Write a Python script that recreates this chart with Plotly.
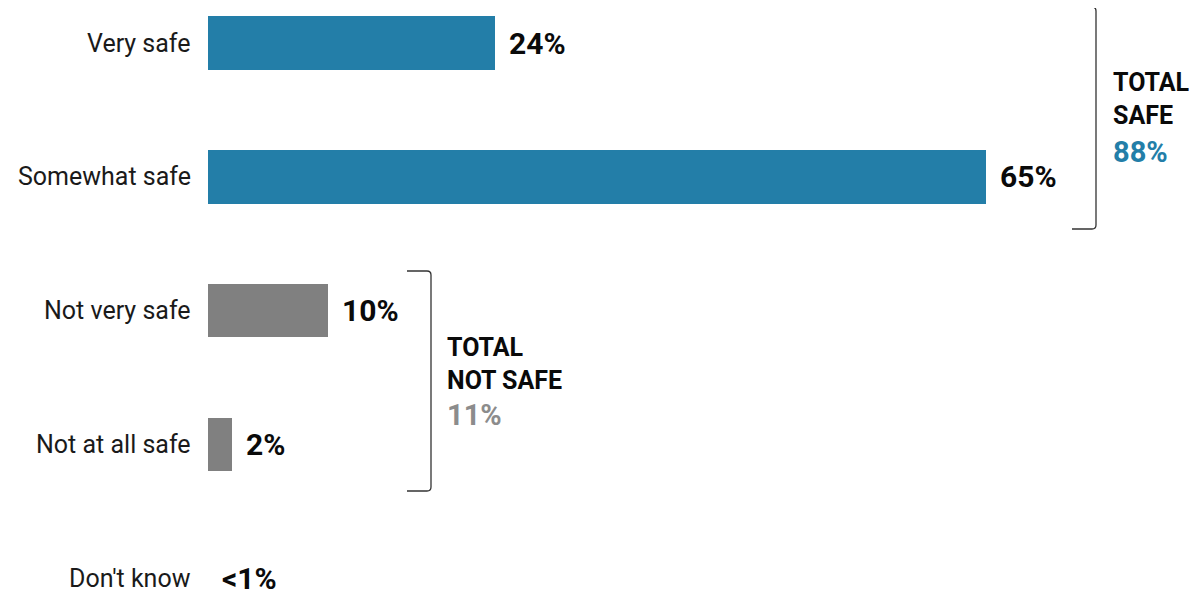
import plotly.graph_objects as go

categories = ["Very safe", "Somewhat safe", "Not very safe", "Not at all safe", "Don't know"]
values = [24, 65, 10, 2, 0]
value_labels = ["24%", "65%", "10%", "2%", "<1%"]
bar_colors = ["#237EA8", "#237EA8", "#808080", "#808080", "#808080"]

group_titles = [["TOTAL", "SAFE"], ["TOTAL", "NOT SAFE"]]
group_totals = ["88%", "11%"]
group_colors = ["#237EA8", "#8C8C8C"]

BOLD = "Roboto"
pos = list(range(len(categories)))

# page body has an 8px margin; compensate
OFF = 8
W, H = 1197 - OFF, 596 - OFF
LEFT = 208 - OFF
SCALE = 11.97  # px per percent
Y0, STEP = 43 - OFF, 133.75  # pixel center of first category, spacing

fig = go.Figure()
fig.add_trace(go.Bar(
    x=values, y=pos, orientation="h",
    marker=dict(color=bar_colors, line=dict(width=0)),
    width=0.40, hoverinfo="skip",
))

ann = []
for i, (c, v, t) in enumerate(zip(categories, values, value_labels)):
    ann.append(dict(x=0, y=i, xref="x", yref="y", text=c, showarrow=False,
                    xanchor="right", yanchor="middle", xshift=-15,
                    font=dict(family="Roboto", size=25, color="#1a1a1a")))
    ann.append(dict(x=v, y=i, xref="x", yref="y", text="<b>" + t + "</b>", showarrow=False,
                    xanchor="left", yanchor="middle", xshift=12,
                    font=dict(family=BOLD, size=30, color="#0a0a0a")))

def px(xp):  # reference pixel x -> paper x
    return (xp - OFF - LEFT) / (W - LEFT)
def py(yp):
    return 1 - (yp - OFF) / H

group_label_pos = [(1113, [83, 116, 152]), (447, [347, 380, 415])]
for g, (xl, ys) in enumerate(group_label_pos):
    lines = group_titles[g]
    for k, line in enumerate(lines):
        ann.append(dict(x=px(xl), y=py(ys[k]), xref="paper", yref="paper",
                        text="<b>" + line + "</b>", showarrow=False,
                        xanchor="left", yanchor="middle", xshift=-2,
                        font=dict(family=BOLD, size=25, color="#0a0a0a")))
    ann.append(dict(x=px(xl), y=py(ys[2]), xref="paper", yref="paper",
                    text="<b>" + group_totals[g] + "</b>", showarrow=False,
                    xanchor="left", yanchor="middle", xshift=-2,
                    font=dict(family=BOLD, size=29, color=group_colors[g])))

def bracket(x0, x1, y0, y1):
    r = 4
    return (f"M {px(x0)},{py(y0)} L {px(x1 - r)},{py(y0)} "
            f"Q {px(x1)},{py(y0)} {px(x1)},{py(y0 + r)} "
            f"L {px(x1)},{py(y1 - r)} "
            f"Q {px(x1)},{py(y1)} {px(x1 - r)},{py(y1)} "
            f"L {px(x0)},{py(y1)}")

shapes = [
    dict(type="path", xref="paper", yref="paper", path=bracket(1072, 1096, 7, 229),
         line=dict(color="#333333", width=1.3)),
    dict(type="path", xref="paper", yref="paper", path=bracket(407, 431, 271, 491),
         line=dict(color="#333333", width=1.3)),
]

y_top = -Y0 / STEP
y_bot = (H - Y0) / STEP

fig.update_layout(
    width=W, height=H,
    margin=dict(l=LEFT, r=0, t=0, b=0),
    paper_bgcolor="white", plot_bgcolor="white",
    showlegend=False,
    xaxis=dict(range=[0, (W - LEFT) / SCALE], visible=False, fixedrange=True),
    yaxis=dict(range=[y_bot, y_top], visible=False, fixedrange=True),
    annotations=ann, shapes=shapes,
    bargap=0,
)
fig.write_html("out.html")
